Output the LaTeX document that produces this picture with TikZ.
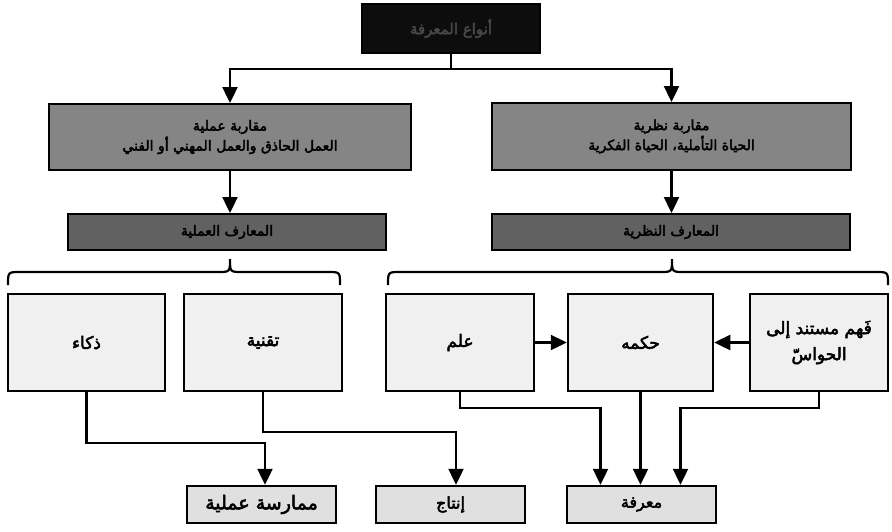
\documentclass[tikz,border=0pt]{standalone}
\usepackage{fontspec}
\usetikzlibrary{arrows.meta,calc}
\TeXXeTstate=1
\newfontfamily\arabicfont[Script=Arabic,FakeBold=3]{DejaVu Sans}
\newcommand{\artx}[1]{{\arabicfont\beginR #1\endR}}
\begin{document}
\begin{tikzpicture}[x=1pt,y=-1pt,
  conn/.style={line width=2.4pt, draw=black},
  arr/.style={conn, -{Triangle[length=16pt,width=15pt]}},
  darkbox/.style={draw=black, line width=2pt, fill=black!48, inner sep=2pt, align=center, font=\fontsize{14}{20}\selectfont, text=black},
  midbox/.style={darkbox, fill=black!62},
  topbox/.style={draw=black, line width=2pt, fill=black!95, text=black!72, font=\fontsize{15}{18}\selectfont},
  smallbox/.style={draw=black, line width=2.5pt, fill=black!6, minimum height=97pt, align=center, font=\fontsize{17}{24}\selectfont},
  lowbox/.style={draw=black, line width=2.5pt, fill=black!12, minimum width=149pt, minimum height=37pt, font=\fontsize{16}{18}\selectfont},
  bracestyle/.style={line width=2.2pt, draw=black}
]
\useasboundingbox (0,0) rectangle (892,531);

% top
\node[topbox, minimum width=178pt, minimum height=49pt] (top) at (451,28.5) {\artx{أنواع المعرفة}};

% big boxes
\node[darkbox, minimum width=362pt, minimum height=66pt] (leftbig) at (230,137)
  {\artx{مقاربة عملية}\\ \artx{العمل الحاذق والعمل المهني أو الفني}};
\node[darkbox, minimum width=359pt, minimum height=67pt] (rightbig) at (671.5,136.5)
  {\artx{مقاربة نظرية}\\ \artx{الحياة التأملية، الحياة الفكرية}};

% mid boxes
\node[midbox, minimum width=318pt, minimum height=36pt] (leftmid) at (227,232) {\artx{المعارف العملية}};
\node[midbox, minimum width=358pt, minimum height=36pt] (rightmid) at (671,232) {\artx{المعارف النظرية}};

% connectors top
\coordinate (split) at ($(top.south)+(0,15)$);
\draw[conn] (top.south) -- (split);
\draw[arr] (split) -| (leftbig.north);
\draw[arr] (split) -| (rightbig.north);
\draw[arr] (leftbig.south) -- (leftbig.south |- leftmid.north);
\draw[arr] (rightbig.south) -- (rightbig.south |- rightmid.north);

% braces
\draw[bracestyle] (8,285) .. controls (8,272) .. (20,272) -- (218,272) .. controls (230,272) .. (230,259)
  .. controls (230,272) .. (242,272) -- (328,272) .. controls (340,272) .. (340,285);
\draw[bracestyle] (388,285) .. controls (388,272) .. (400,272) -- (660,272) .. controls (672,272) .. (672,259)
  .. controls (672,272) .. (684,272) -- (876,272) .. controls (888,272) .. (888,285);

% small boxes
\node[smallbox, minimum width=157pt] (dhaka) at (86.5,342.5) {\artx{ذكاء}};
\node[smallbox, minimum width=158pt] (taqniya) at (263,342.5) {\artx{تقنية}};
\node[smallbox, minimum width=148pt] (ilm) at (460,342.5) {\artx{علم}};
\node[smallbox, minimum width=145pt] (hikma) at (640.5,342.5) {\artx{حكمه}};
\node[smallbox, minimum width=138pt, font=\fontsize{17}{26}\selectfont] (fahm) at (819,342.5) {\artx{فَهم مستند إلى}\\ \artx{الحواسّ}};

\draw[arr] (ilm.east) -- (hikma.west);
\draw[arr] (fahm.west) -- (hikma.east);

% bottom boxes
\node[lowbox, font=\fontsize{19}{20}\selectfont] (mumarasa) at (261.5,504.5) {\artx{ممارسة عملية}};
\node[lowbox] (intaj) at (450.5,504.5) {\artx{إنتاج}};
\node[lowbox] (marifa) at (641.5,504.5) {\artx{معرفة}};

% bottom connectors
\draw[arr] (dhaka.south) -- ++(0,51) -| ([xshift=3.5pt]mumarasa.north);
\draw[arr] (taqniya.south) -- ++(0,40) -| ([xshift=5.5pt]intaj.north);
\draw[arr] (ilm.south) -- ++(0,16) -| ([xshift=-41pt]marifa.north);
\draw[arr] (hikma.south) -- (hikma.south |- marifa.north);
\draw[arr] (fahm.south) -- ++(0,16) -| ([xshift=39pt]marifa.north);
\end{tikzpicture}
\end{document}
